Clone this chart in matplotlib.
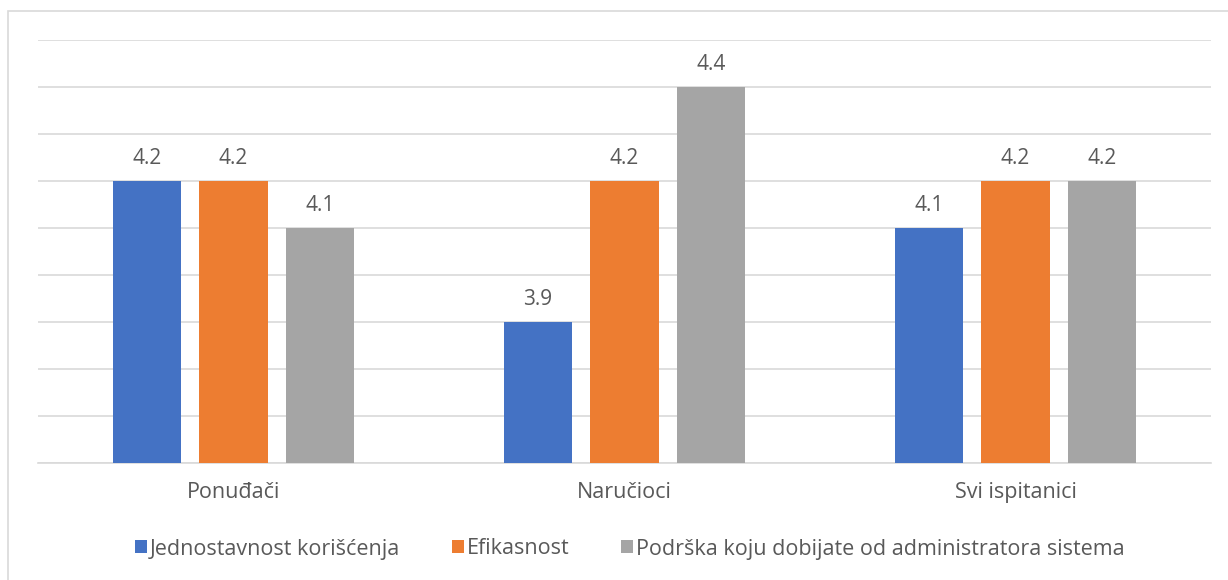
import matplotlib.pyplot as plt
import numpy as np
from matplotlib.patches import Rectangle

categories = ["Ponuđači", "Naručioci", "Svi ispitanici"]
series_names = [
    "Jednostavnost korišćenja",
    "Efikasnost",
    "Podrška koju dobijate od administratora sistema",
]
jednostavnost = [4.2, 3.9, 4.1]
efikasnost = [4.2, 4.2, 4.2]
podrska = [4.1, 4.4, 4.2]

colors = ["#4472C4", "#ED7D31", "#A5A5A5"]
text_color = "#595959"

plt.rcParams["font.family"] = ["Open Sans", "DejaVu Sans"]

W, H = 1228, 580
fig = plt.figure(figsize=(W / 100, H / 100), dpi=100)
ax = fig.add_axes([38 / W, 1 - 463 / H, (1211 - 38) / W, (463 - 40) / H])

x = np.arange(len(categories))
width = 0.174
step = 0.222
for i, (vals, name) in enumerate(zip([jednostavnost, efikasnost, podrska], series_names)):
    bars = ax.bar(x + (i - 1) * step, vals, width, color=colors[i], label=name, zorder=3)
    ax.bar_label(bars, labels=[f"{v:.1f}" for v in vals], padding=9,
                 fontsize=15, color=text_color)

ax.set_xlim(-0.5, len(categories) - 0.5)
ax.set_ylim(3.6, 4.5)
ax.set_yticks(np.arange(3.6, 4.51, 0.1))
ax.yaxis.grid(True, color="#D9D9D9", linewidth=1.2, zorder=0)
ax.tick_params(axis="y", left=False, labelleft=False)
ax.tick_params(axis="x", length=0, pad=14, labelsize=15.5, labelcolor=text_color)
ax.set_xticks(x)
ax.set_xticklabels(categories)
for s in ["top", "right", "left"]:
    ax.spines[s].set_visible(False)
ax.spines["bottom"].set_color("#D9D9D9")
ax.spines["bottom"].set_linewidth(1.2)

fig.legend(loc="center", bbox_to_anchor=(630 / W, 1 - 549 / H), ncol=3, frameon=False,
           fontsize=15.5, labelcolor=text_color, handlelength=0.55, handleheight=0.55,
           handletextpad=0.15, columnspacing=2.4)

# chart frame: only its top and left edges fall inside the picture
fig.patches.append(Rectangle((8 / W, -0.1), 1.2, 1 - 11 / H + 0.1,
                             transform=fig.transFigure, fill=False,
                             edgecolor="#D9D9D9", linewidth=1.2))

fig.savefig("out.png", dpi=100)
